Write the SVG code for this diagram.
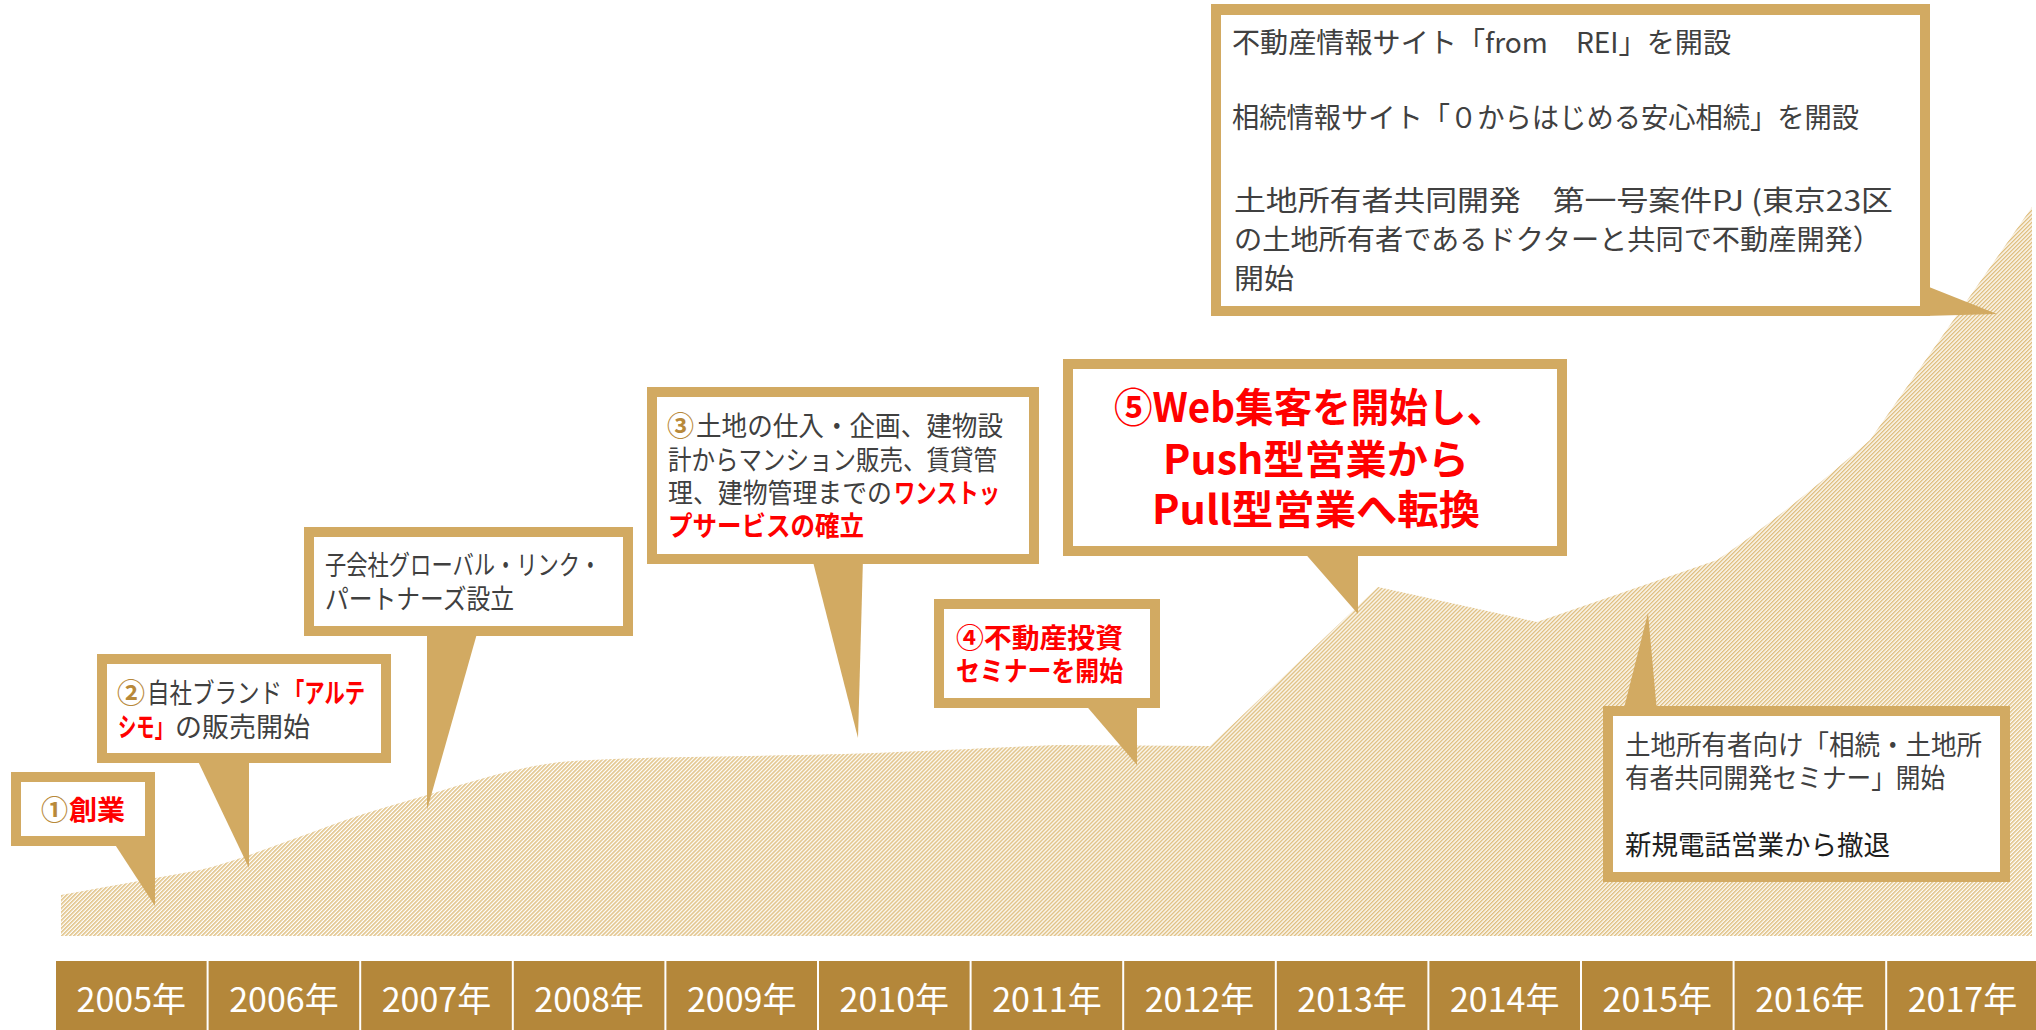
<svg xmlns="http://www.w3.org/2000/svg" width="2036" height="1030" viewBox="0 0 2036 1030">
<defs>
<pattern id="hatch" patternUnits="userSpaceOnUse" width="2.83" height="10" patternTransform="rotate(45)">
<rect x="0" y="0" width="1.5" height="10" fill="#DFBF80"/>
</pattern>
<style>
.frame{fill:#D2AA62}
.inner{fill:#FFFFFF}
.t{font-family:"Noto Sans CJK JP","Noto Sans",sans-serif;font-size:27px;fill:#404040}
.r{font-weight:700;fill:#FF0000}
.num{fill:#B8893A;font-weight:700}
.dk{fill:#1E1E1E}
.cell{fill:#B4873A}
.yr{font-family:"Noto Sans CJK JP","Noto Sans",sans-serif;font-size:34px;fill:#FFFFFF;text-anchor:middle}
</style>
</defs>
<rect width="2036" height="1030" fill="#FFFFFF"/>

<g id="growth-area">
<path fill="url(#hatch)" d="M61,936 L61,895 L200,870 C260,855 330,822 400,803 C460,786 500,770 560,762 C620,757 700,757 800,755 C900,753 1000,747 1060,745 L1210,746 L1378,587 L1537,622 L1717,560 C1770,525 1830,475 1870,440 L2032,207 L2032,936 Z"/>
</g>

<g id="year-axis">
<rect class="cell" x="56" y="961" width="150.6" height="69"/>
<rect class="cell" x="208.6" y="961" width="150.6" height="69"/>
<rect class="cell" x="361.2" y="961" width="150.6" height="69"/>
<rect class="cell" x="513.8" y="961" width="150.6" height="69"/>
<rect class="cell" x="666.4" y="961" width="150.6" height="69"/>
<rect class="cell" x="819" y="961" width="150.6" height="69"/>
<rect class="cell" x="971.6" y="961" width="150.6" height="69"/>
<rect class="cell" x="1124.2" y="961" width="150.6" height="69"/>
<rect class="cell" x="1276.8" y="961" width="150.6" height="69"/>
<rect class="cell" x="1429.4" y="961" width="150.6" height="69"/>
<rect class="cell" x="1582" y="961" width="150.6" height="69"/>
<rect class="cell" x="1734.6" y="961" width="150.6" height="69"/>
<rect class="cell" x="1887.2" y="961" width="150.6" height="69"/>
<text class="yr" x="131.3" y="1012">2005年</text>
<text class="yr" x="283.9" y="1012">2006年</text>
<text class="yr" x="436.5" y="1012">2007年</text>
<text class="yr" x="589.1" y="1012">2008年</text>
<text class="yr" x="741.7" y="1012">2009年</text>
<text class="yr" x="894.3" y="1012">2010年</text>
<text class="yr" x="1046.9" y="1012">2011年</text>
<text class="yr" x="1199.5" y="1012">2012年</text>
<text class="yr" x="1352.1" y="1012">2013年</text>
<text class="yr" x="1504.7" y="1012">2014年</text>
<text class="yr" x="1657.3" y="1012">2015年</text>
<text class="yr" x="1809.9" y="1012">2016年</text>
<text class="yr" x="1962.5" y="1012">2017年</text>
</g>

<g id="connectors"></g>

<g id="node-1">
<polygon class="frame" points="112,840 155,840 155,906"/>
<rect class="frame" x="11" y="772" width="144" height="74"/>
<rect class="inner" x="21" y="782" width="124" height="54"/>
<text class="t" y="820"><tspan class="num" x="41">①</tspan><tspan class="r" x="69" textLength="56" lengthAdjust="spacingAndGlyphs">創業</tspan></text>
</g>

<g id="node-2">
<polygon class="frame" points="196,757 249,757 249,868"/>
<rect class="frame" x="97" y="654" width="294" height="109"/>
<rect class="inner" x="107" y="664" width="274" height="89"/>
<text class="t"><tspan class="num" x="117" y="703" textLength="28" lengthAdjust="spacingAndGlyphs">②</tspan><tspan x="147" y="703" textLength="135" lengthAdjust="spacingAndGlyphs">自社ブランド</tspan><tspan class="r" x="284" y="703" textLength="81" lengthAdjust="spacingAndGlyphs">「アルテ</tspan><tspan class="r" x="118" y="737" textLength="55" lengthAdjust="spacingAndGlyphs">シモ」</tspan><tspan x="175" y="737" textLength="135" lengthAdjust="spacingAndGlyphs">の販売開始</tspan></text>
</g>

<g id="node-subsidiary">
<polygon class="frame" points="427,630 478,630 427,810"/>
<rect class="frame" x="304" y="527" width="329" height="109"/>
<rect class="inner" x="314" y="537" width="309" height="89"/>
<text class="t"><tspan x="325" y="575" textLength="276" lengthAdjust="spacingAndGlyphs">子会社グローバル・リンク・</tspan><tspan x="325" y="609" textLength="189" lengthAdjust="spacingAndGlyphs">パートナーズ設立</tspan></text>
</g>

<g id="node-3">
<polygon class="frame" points="812,558 863,558 858,738"/>
<rect class="frame" x="647" y="387" width="392" height="177"/>
<rect class="inner" x="657" y="397" width="372" height="157"/>
<text class="t"><tspan class="num" x="667" y="436" textLength="27" lengthAdjust="spacingAndGlyphs">③</tspan><tspan x="696" y="436" textLength="307" lengthAdjust="spacingAndGlyphs">土地の仕入・企画、建物設</tspan><tspan x="668" y="470" textLength="329" lengthAdjust="spacingAndGlyphs">計からマンション販売、賃貸管</tspan><tspan x="668" y="503" textLength="224" lengthAdjust="spacingAndGlyphs">理、建物管理までの</tspan><tspan class="r" x="894" y="503" textLength="106" lengthAdjust="spacingAndGlyphs">ワンストッ</tspan><tspan class="r" x="668" y="536" textLength="196" lengthAdjust="spacingAndGlyphs">プサービスの確立</tspan></text>
</g>

<g id="node-4">
<polygon class="frame" points="1083,702 1137,702 1137,765"/>
<rect class="frame" x="934" y="599" width="226" height="109"/>
<rect class="inner" x="944" y="609" width="206" height="89"/>
<text class="t r"><tspan x="956" y="648" textLength="167" lengthAdjust="spacingAndGlyphs">④不動産投資</tspan><tspan x="956" y="681" textLength="167" lengthAdjust="spacingAndGlyphs">セミナーを開始</tspan></text>
</g>

<g id="node-5">
<polygon class="frame" points="1302,550 1358,550 1358,614"/>
<rect class="frame" x="1063" y="359" width="504" height="197"/>
<rect class="inner" x="1073" y="369" width="484" height="177"/>
<text class="t r" style="font-size:40px"><tspan x="1114" y="422" textLength="391" lengthAdjust="spacingAndGlyphs">⑤Web集客を開始し、</tspan><tspan x="1163" y="474" textLength="306" lengthAdjust="spacingAndGlyphs">Push型営業から</tspan><tspan x="1152" y="524" textLength="328" lengthAdjust="spacingAndGlyphs">Pull型営業へ転換</tspan></text>
</g>

<g id="node-6">
<polygon class="frame" points="1623,712 1657,712 1648,613"/>
<rect class="frame" x="1603" y="706" width="407" height="176"/>
<rect class="inner" x="1613" y="716" width="387" height="156"/>
<text class="t"><tspan x="1625" y="755" textLength="357" lengthAdjust="spacingAndGlyphs">土地所有者向け「相続・土地所</tspan><tspan x="1625" y="788" textLength="320" lengthAdjust="spacingAndGlyphs">有者共同開発セミナー」開始</tspan><tspan class="dk" x="1625" y="855" textLength="265" lengthAdjust="spacingAndGlyphs">新規電話営業から撤退</tspan></text>
</g>

<g id="node-7">
<polygon class="frame" points="1924,285 1997,314 1924,316"/>
<rect class="frame" x="1211" y="4" width="719" height="312"/>
<rect class="inner" x="1221" y="15" width="699" height="291"/>
<text class="t" style="font-size:28px"><tspan x="1232" y="53" textLength="499" lengthAdjust="spacingAndGlyphs">不動産情報サイト「from　REI」を開設</tspan><tspan x="1232" y="128" textLength="627" lengthAdjust="spacingAndGlyphs">相続情報サイト「０からはじめる安心相続」を開設</tspan><tspan x="1234" y="211" textLength="659" lengthAdjust="spacingAndGlyphs">土地所有者共同開発　第一号案件PJ (東京23区</tspan><tspan x="1234" y="250" textLength="647" lengthAdjust="spacingAndGlyphs">の土地所有者であるドクターと共同で不動産開発）</tspan><tspan x="1234" y="289" textLength="60" lengthAdjust="spacingAndGlyphs">開始</tspan></text>
</g>
</svg>
